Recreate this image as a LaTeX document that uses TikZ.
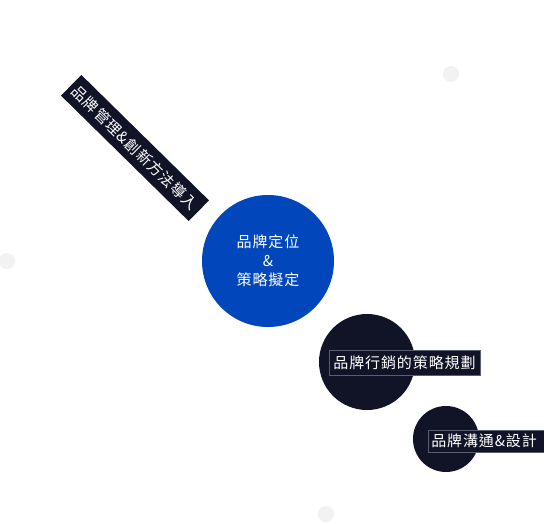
\documentclass[tikz,border=0pt]{standalone}
\usepackage{fontspec}
\setmainfont{Noto Sans CJK TC}[LetterSpace=6]
\definecolor{brandblue}{RGB}{1,71,187}
\definecolor{navy}{RGB}{16,20,38}
\definecolor{dotgray}{RGB}{242,242,242}
\definecolor{edgegray}{RGB}{90,94,110}
\tikzset{
  dot/.style={circle,fill=dotgray,minimum size=16pt,inner sep=0pt},
  bigdisc/.style={circle,inner sep=0pt},
  tag/.style={fill=navy,draw=edgegray,line width=0.6pt,text=white,font=\fontsize{15pt}{19pt}\selectfont,inner xsep=3pt,inner ysep=0pt,minimum height=24pt},
}
\begin{document}
\begin{tikzpicture}[x=1pt,y=-1pt]
\useasboundingbox (0,0) rectangle (544,523);
\fill[white] (0,0) rectangle (544,523);
% faint dots
\node[dot] (d1) at (451,74) {};
\node[dot] (d2) at (7,261) {};
\node[dot] (d3) at (326,514) {};
% circles
\node[bigdisc,fill=brandblue,minimum size=132pt] (c1) at (268,261) {};
\node[bigdisc,fill=navy,minimum size=96pt] (c2) at (367,362) {};
\node[bigdisc,fill=navy,minimum size=66pt] (c3) at (446,439) {};
% center text
\node[text=white,align=center,font=\fontsize{15pt}{19pt}\selectfont] (t1) at (c1) {品牌定位\\\&\\策略擬定};
% rotated tag
\node[tag,rotate=-44.5,minimum width=179pt,minimum height=29pt,draw=none] (t0) at (135,148) {品牌管理\&創新方法導入};
% horizontal tags
\node[tag,minimum width=151pt,minimum height=25pt] (t2) at (404.5,362.5) {品牌行銷的策略規劃};
\node[tag,anchor=west,minimum height=22pt,minimum width=120pt,align=left,text width=114pt] (t3) at (428,441) {品牌溝通\&設計};
\end{tikzpicture}
\end{document}
